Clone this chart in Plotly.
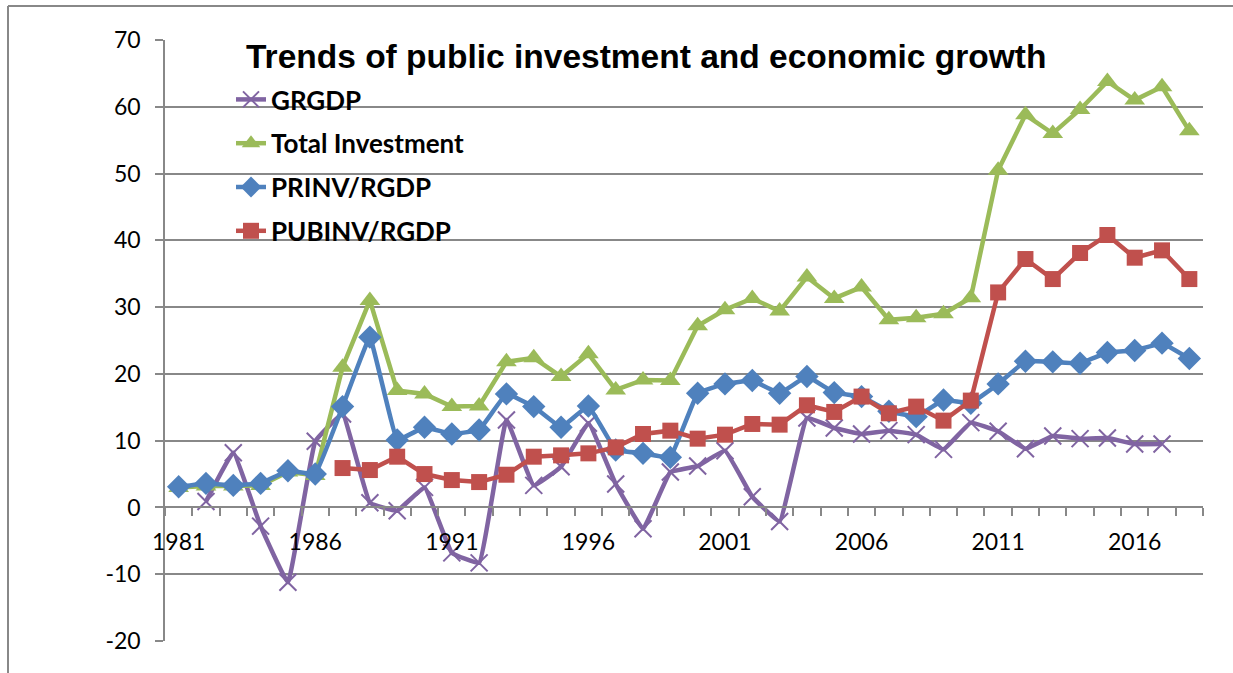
import plotly.graph_objects as go

# Years on the category axis
years = list(range(1981, 2019))

# Annual growth of real GDP (%)
grgdp = [None, 0.9, 8.2, -2.8, -11.2, 9.9, 14.0, 0.7, -0.5, 3.0,
         -6.8, -8.3, 13.1, 3.3, 6.1, 12.6, 3.5, -3.2, 5.3, 6.2,
         8.5, 1.6, -2.1, 13.4, 11.9, 11.0, 11.5, 10.9, 8.7, 12.7,
         11.4, 8.8, 10.7, 10.3, 10.4, 9.5, 9.5, None]

# Total investment
total_inv = [3.0, 3.2, 3.2, 3.3, 5.3, 4.8, 21.0, 31.0, 17.5, 17.0,
             15.1, 15.2, 21.8, 22.4, 19.6, 23.0, 17.6, 19.1, 19.0, 27.2,
             29.6, 31.3, 29.4, 34.5, 31.3, 33.0, 28.1, 28.4, 29.0, 31.4,
             50.5, 58.8, 56.0, 59.6, 63.8, 61.0, 63.0, 56.4]

# Private investment relative to real GDP
prinv = [3.1, 3.6, 3.3, 3.6, 5.5, 5.0, 15.1, 25.5, 10.1, 12.0,
         11.0, 11.6, 17.0, 15.1, 12.0, 15.2, 8.6, 8.1, 7.5, 17.1,
         18.5, 19.0, 17.1, 19.6, 17.2, 16.6, 14.4, 13.6, 16.1, 15.6,
         18.5, 21.9, 21.8, 21.6, 23.2, 23.5, 24.6, 22.3]

# Public investment relative to real GDP
pubinv = [None, None, None, None, None, None, 5.9, 5.6, 7.6, 5.0,
          4.1, 3.8, 4.9, 7.6, 7.8, 8.1, 9.0, 11.0, 11.5, 10.3,
          10.9, 12.5, 12.4, 15.3, 14.3, 16.6, 14.1, 15.1, 13.0, 16.0,
          32.2, 37.2, 34.2, 38.1, 40.8, 37.4, 38.5, 34.2]

x_labels = [1981, 1986, 1991, 1996, 2001, 2006, 2011, 2016]
y_ticks = list(range(-20, 71, 10))

GRID = "#888888"
W, H = 1233, 673
ML, MR, MT, MB = 165, 30, 40, 32
PW, PH = W - ML - MR, H - MT - MB

fig = go.Figure()

fig.add_trace(go.Scatter(
    x=years, y=grgdp, name="GRGDP", mode="lines+markers", legendgroup="a",
    line=dict(color="#8064A2", width=4.5, shape="spline", smoothing=0.25),
    marker=dict(symbol="x-thin", size=17, line=dict(color="#8064A2", width=2)),
))
fig.add_trace(go.Scatter(
    x=years, y=total_inv, name="Total Investment", mode="lines+markers", legendgroup="b",
    line=dict(color="#9BBB59", width=4.5),
    marker=dict(symbol="triangle-up", size=18, color="#9BBB59"),
))
fig.add_trace(go.Scatter(
    x=years, y=prinv, name="PRINV/RGDP", mode="lines+markers", legendgroup="c",
    line=dict(color="#4F81BD", width=4.5, shape="spline", smoothing=0.2),
    marker=dict(symbol="diamond", size=18, color="#4F81BD"),
))
fig.add_trace(go.Scatter(
    x=years, y=pubinv, name="PUBINV/RGDP", mode="lines+markers", legendgroup="d",
    line=dict(color="#C0504D", width=4.5),
    marker=dict(symbol="square", size=16, color="#C0504D"),
))

# outer frame lines (top and left)
def px_x(px):
    return (px - ML) / PW

def px_y(py):
    return (H - MB - py) / PH

fig.add_shape(type="line", xref="paper", yref="paper",
              x0=px_x(8), x1=px_x(1240), y0=px_y(6), y1=px_y(6),
              line=dict(color=GRID, width=2))
fig.add_shape(type="line", xref="paper", yref="paper",
              x0=px_x(8), x1=px_x(8), y0=px_y(6), y1=px_y(680),
              line=dict(color=GRID, width=2))

fig.add_annotation(
    text="<b>Trends of public investment and economic growth</b>",
    xref="paper", yref="paper", x=px_x(646), y=px_y(57),
    xanchor="center", yanchor="middle", showarrow=False,
    font=dict(family="Liberation Sans", size=33.5, color="black"),
)

fig.update_layout(
    width=W, height=H,
    margin=dict(l=ML, r=MR, t=MT, b=MB),
    paper_bgcolor="white", plot_bgcolor="white",
    showlegend=True,
    legend=dict(
        x=px_x(231), y=px_y(76), xanchor="left", yanchor="top",
        font=dict(family="Lato", size=26, color="black", weight="bold"),
        bgcolor="rgba(0,0,0,0)", tracegroupgap=7,
    ),
    xaxis=dict(
        range=[1980.5, 2018.5],
        tickmode="array", tickvals=x_labels, ticktext=[str(v) for v in x_labels],
        ticks="", showgrid=False, zeroline=False,
        showline=True, linecolor=GRID, linewidth=1.5,
        anchor="free", position=20 / 90,
        tickfont=dict(family="Lato", size=23, color="black"),
        ticklabelstandoff=14,
        minor=dict(tickmode="linear", tick0=1980.5, dtick=1, ticks="outside",
                   ticklen=8, tickcolor=GRID, tickwidth=1.5, showgrid=False),
    ),
    yaxis=dict(
        range=[-20, 70], tickmode="array", tickvals=y_ticks,
        ticktext=[str(v) for v in y_ticks],
        showgrid=True, gridcolor=GRID, gridwidth=1.5, zeroline=False,
        showline=True, linecolor=GRID, linewidth=1.5,
        ticks="outside", ticklen=8, tickcolor=GRID, tickwidth=1.5,
        tickfont=dict(family="Lato", size=23, color="black"),
        ticklabelstandoff=10,
    ),
)

fig.write_html("out.html")
